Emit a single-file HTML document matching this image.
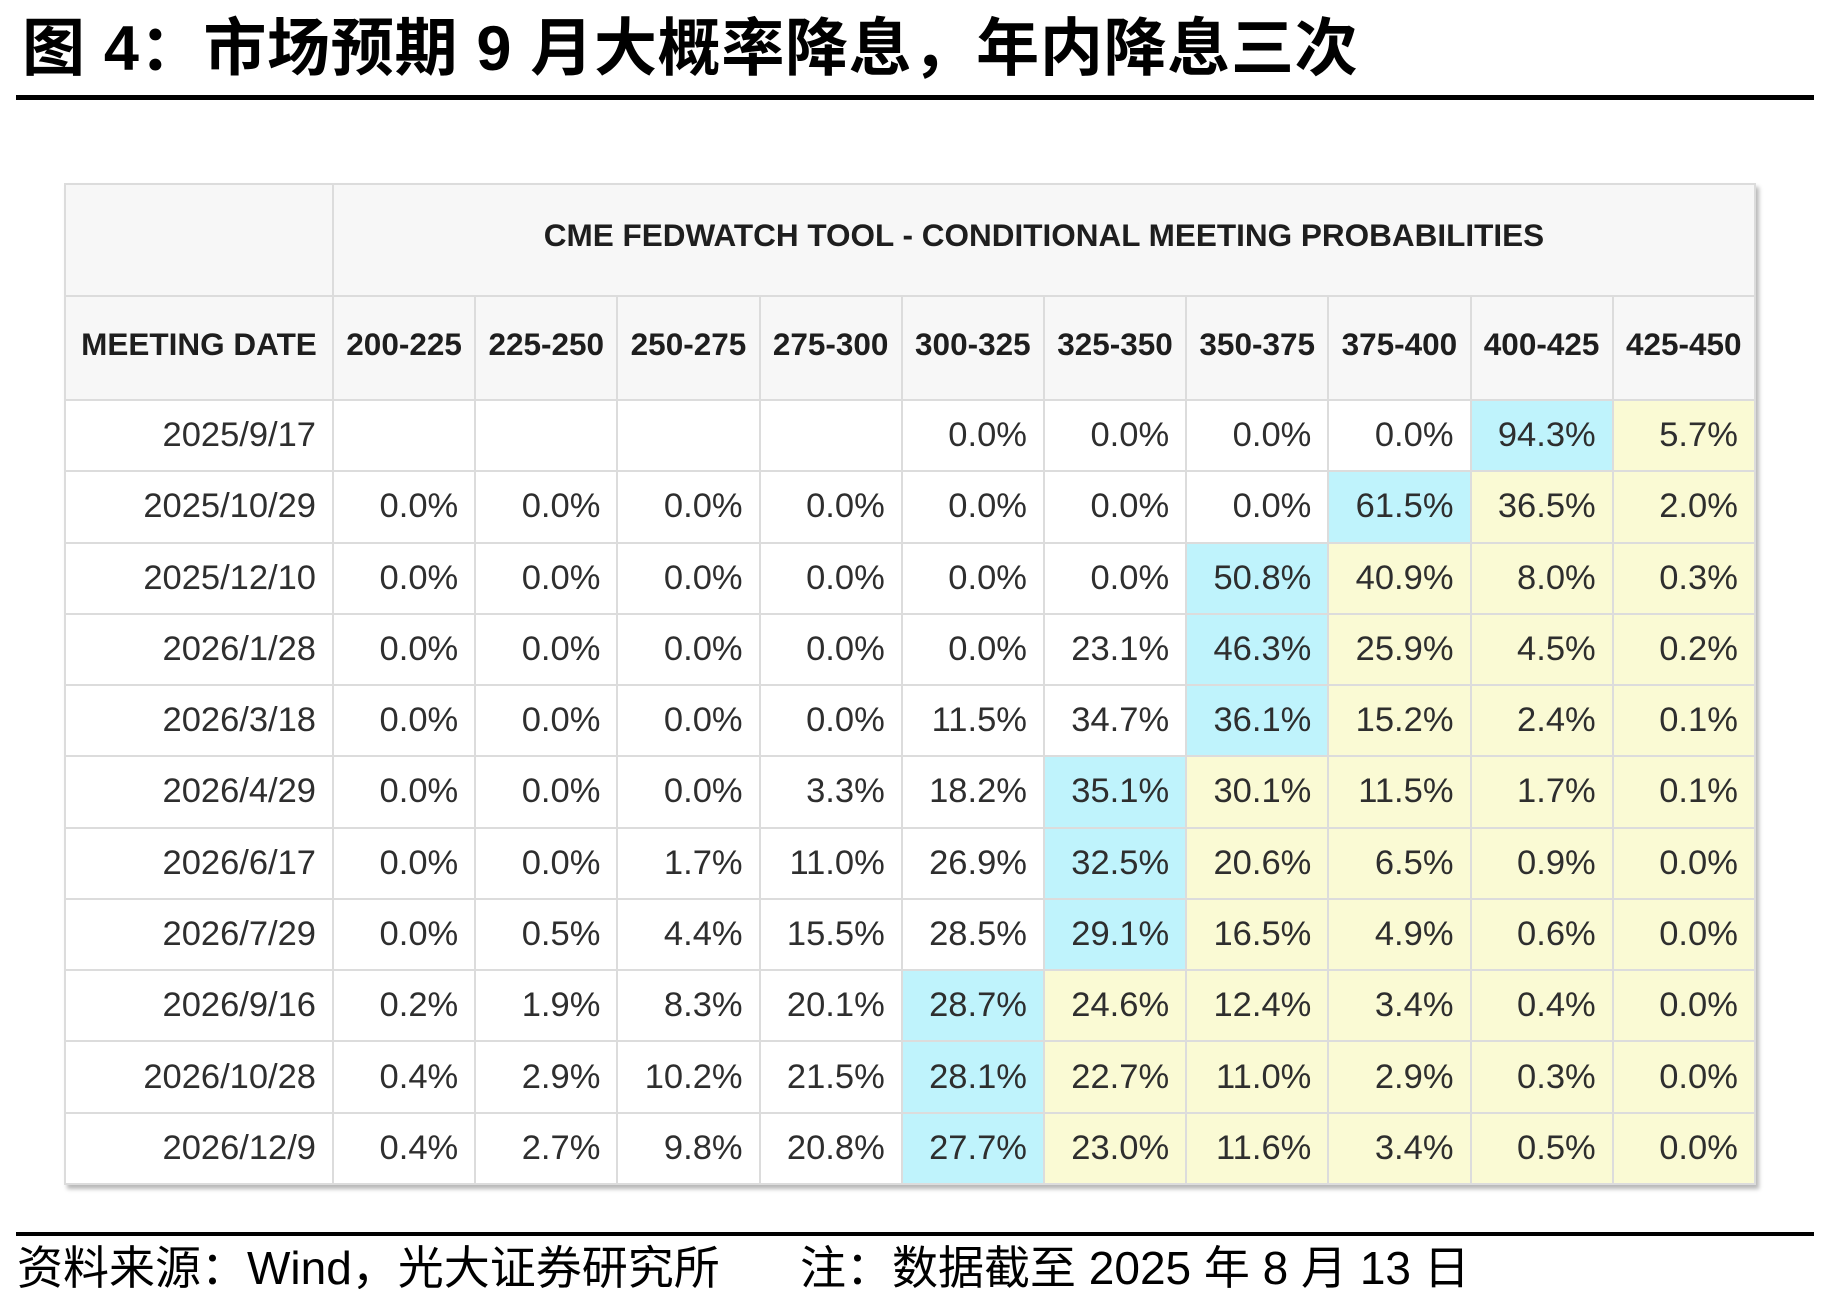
<!DOCTYPE html>
<html><head><meta charset="utf-8">
<style>
html,body{margin:0;padding:0;background:#fff;}
body{width:1824px;height:1302px;position:relative;overflow:hidden;font-family:"Liberation Sans","Noto Sans CJK SC",sans-serif;}
.title{position:absolute;left:22px;top:18px;font-size:63px;line-height:63px;font-weight:bold;color:#000;letter-spacing:0.7px;white-space:nowrap;font-family:"Liberation Sans","Noto Sans CJK SC",sans-serif;}
.rule1{position:absolute;left:16px;top:95px;width:1798px;height:5px;background:#000;}
.rule2{position:absolute;left:16px;top:1232px;width:1798px;height:4px;background:#000;}
.foot{position:absolute;top:1245px;font-size:46px;line-height:46px;color:#000;white-space:nowrap;font-family:"Liberation Sans","Noto Sans CJK SC",sans-serif;}
.tbl{position:absolute;left:64px;top:183px;display:grid;
 grid-template-columns:268px repeat(10,142.2px);
 grid-template-rows:112px 104px repeat(11,71.27px);
 border-top:2px solid #dcdcdc;border-left:2px solid #dcdcdc;
 box-shadow:3px 4px 4px rgba(0,0,0,0.28);box-sizing:border-box;background:#fff;}
.tbl div{border-right:2px solid #dcdcdc;border-bottom:2px solid #dcdcdc;box-sizing:border-box;display:flex;align-items:center;}
.h{background:#f7f7f7;font-weight:bold;font-size:31.5px;color:#1e1e1e;justify-content:center;padding-bottom:7px;}
.h1{padding-bottom:9px;}
.d{font-size:34.5px;color:#2e2e2e;justify-content:flex-end;padding-right:16px;}
.c{background:#bff3fc;}
.y{background:#fafad4;}
</style></head><body>
<div class="title">图 4：市场预期 9 月大概率降息，年内降息三次</div>
<div class="rule1"></div>

<div class="tbl">
<div class="h h1"></div><div class="h h1" style="grid-column:span 10;">CME FEDWATCH TOOL - CONDITIONAL MEETING PROBABILITIES</div>
<div class="h">MEETING DATE</div><div class="h">200-225</div><div class="h">225-250</div><div class="h">250-275</div><div class="h">275-300</div><div class="h">300-325</div><div class="h">325-350</div><div class="h">350-375</div><div class="h">375-400</div><div class="h">400-425</div><div class="h">425-450</div>

<div class="d">2025/9/17</div><div class="d"></div><div class="d"></div><div class="d"></div><div class="d"></div><div class="d">0.0%</div><div class="d">0.0%</div><div class="d">0.0%</div><div class="d">0.0%</div><div class="d c">94.3%</div><div class="d y">5.7%</div>

<div class="d">2025/10/29</div><div class="d">0.0%</div><div class="d">0.0%</div><div class="d">0.0%</div><div class="d">0.0%</div><div class="d">0.0%</div><div class="d">0.0%</div><div class="d">0.0%</div><div class="d c">61.5%</div><div class="d y">36.5%</div><div class="d y">2.0%</div>

<div class="d">2025/12/10</div><div class="d">0.0%</div><div class="d">0.0%</div><div class="d">0.0%</div><div class="d">0.0%</div><div class="d">0.0%</div><div class="d">0.0%</div><div class="d c">50.8%</div><div class="d y">40.9%</div><div class="d y">8.0%</div><div class="d y">0.3%</div>

<div class="d">2026/1/28</div><div class="d">0.0%</div><div class="d">0.0%</div><div class="d">0.0%</div><div class="d">0.0%</div><div class="d">0.0%</div><div class="d">23.1%</div><div class="d c">46.3%</div><div class="d y">25.9%</div><div class="d y">4.5%</div><div class="d y">0.2%</div>

<div class="d">2026/3/18</div><div class="d">0.0%</div><div class="d">0.0%</div><div class="d">0.0%</div><div class="d">0.0%</div><div class="d">11.5%</div><div class="d">34.7%</div><div class="d c">36.1%</div><div class="d y">15.2%</div><div class="d y">2.4%</div><div class="d y">0.1%</div>

<div class="d">2026/4/29</div><div class="d">0.0%</div><div class="d">0.0%</div><div class="d">0.0%</div><div class="d">3.3%</div><div class="d">18.2%</div><div class="d c">35.1%</div><div class="d y">30.1%</div><div class="d y">11.5%</div><div class="d y">1.7%</div><div class="d y">0.1%</div>

<div class="d">2026/6/17</div><div class="d">0.0%</div><div class="d">0.0%</div><div class="d">1.7%</div><div class="d">11.0%</div><div class="d">26.9%</div><div class="d c">32.5%</div><div class="d y">20.6%</div><div class="d y">6.5%</div><div class="d y">0.9%</div><div class="d y">0.0%</div>

<div class="d">2026/7/29</div><div class="d">0.0%</div><div class="d">0.5%</div><div class="d">4.4%</div><div class="d">15.5%</div><div class="d">28.5%</div><div class="d c">29.1%</div><div class="d y">16.5%</div><div class="d y">4.9%</div><div class="d y">0.6%</div><div class="d y">0.0%</div>

<div class="d">2026/9/16</div><div class="d">0.2%</div><div class="d">1.9%</div><div class="d">8.3%</div><div class="d">20.1%</div><div class="d c">28.7%</div><div class="d y">24.6%</div><div class="d y">12.4%</div><div class="d y">3.4%</div><div class="d y">0.4%</div><div class="d y">0.0%</div>

<div class="d">2026/10/28</div><div class="d">0.4%</div><div class="d">2.9%</div><div class="d">10.2%</div><div class="d">21.5%</div><div class="d c">28.1%</div><div class="d y">22.7%</div><div class="d y">11.0%</div><div class="d y">2.9%</div><div class="d y">0.3%</div><div class="d y">0.0%</div>

<div class="d">2026/12/9</div><div class="d">0.4%</div><div class="d">2.7%</div><div class="d">9.8%</div><div class="d">20.8%</div><div class="d c">27.7%</div><div class="d y">23.0%</div><div class="d y">11.6%</div><div class="d y">3.4%</div><div class="d y">0.5%</div><div class="d y">0.0%</div>
</div>

<div class="rule2"></div>
<div class="foot" style="left:17px;">资料来源：Wind，光大证券研究所</div>
<div class="foot" style="left:800px;">注：数据截至 2025 年 8 月 13 日</div>
</body></html>
